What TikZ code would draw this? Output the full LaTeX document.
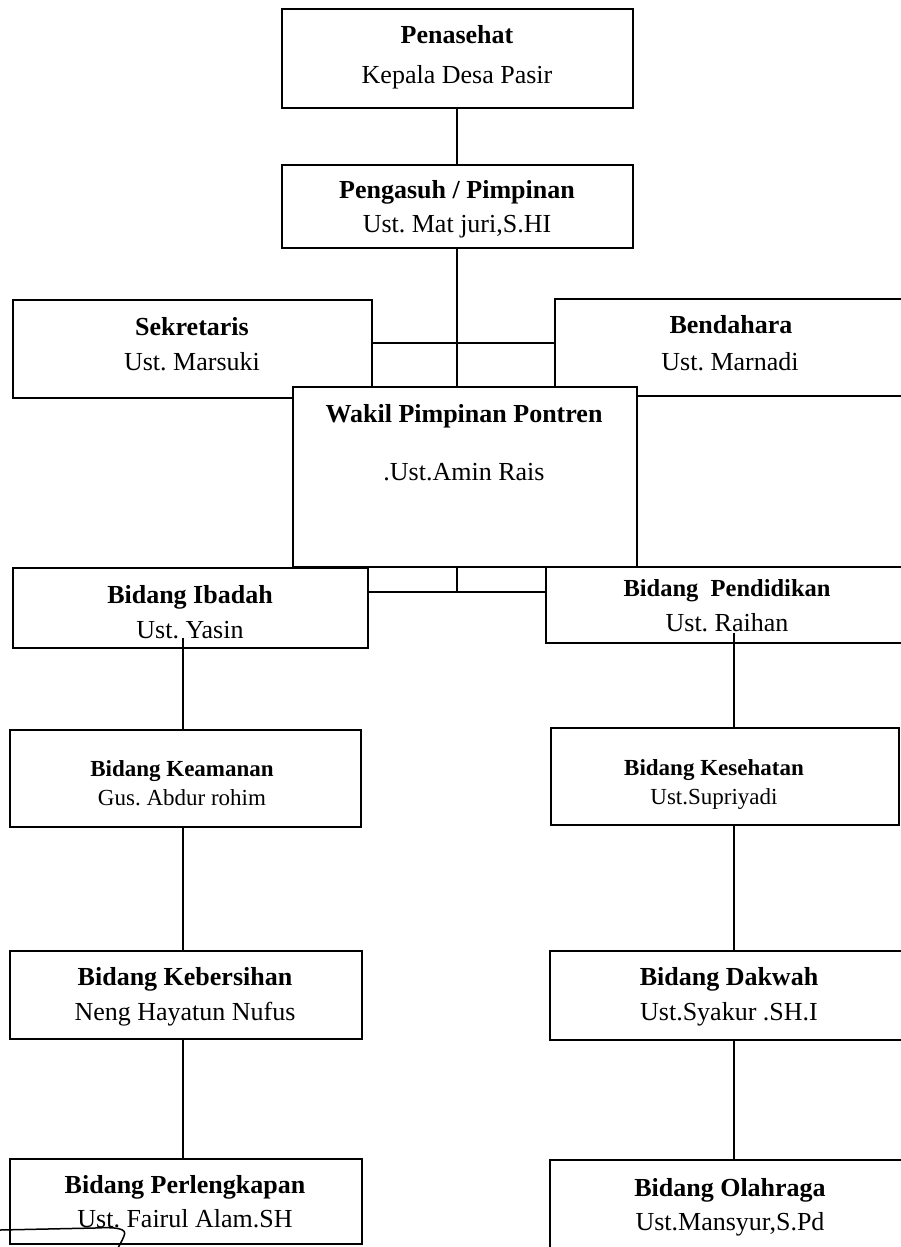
\documentclass[tikz,border=0pt]{standalone}
\usepackage{fontspec}
\setmainfont{Liberation Serif}
\frenchspacing
\begin{document}
\begin{tikzpicture}[x=1pt,y=-1pt,
  box/.style={draw, line width=2.2pt, rectangle, inner sep=0pt},
  ttl/.style={font=\bfseries\fontsize{26}{30}\selectfont, anchor=base, inner sep=0pt},
  nm/.style={font=\fontsize{26}{30}\selectfont, anchor=base, inner sep=0pt},
  ttls/.style={font=\bfseries\fontsize{23}{27}\selectfont, anchor=base, inner sep=0pt},
  nms/.style={font=\fontsize{23}{27}\selectfont, anchor=base, inner sep=0pt},
  conn/.style={line width=1.9pt}]
\fill[white] (0,0) rectangle (901,1247);
\useasboundingbox (0,0) rectangle (901,1247);

% boxes
\node[box, minimum width=351pt, minimum height=99pt] (pen) at (457.5,58.5) {};
\node[box, minimum width=351pt, minimum height=83pt] (pga) at (457.5,206.5) {};
\node[box, minimum width=359pt, minimum height=98pt] (sek) at (192.5,349) {};
\node[box, minimum width=355pt, minimum height=97pt] (ben) at (732.5,347.5) {};
\node[box, minimum width=344pt, minimum height=180pt, fill=white] (wak) at (465,477) {};
\node[box, minimum width=355pt, minimum height=80pt] (iba) at (190.5,608) {};
\node[box, minimum width=362pt, minimum height=76pt] (pdk) at (727,605) {};
\node[box, minimum width=351pt, minimum height=97pt] (kea) at (185.5,778.5) {};
\node[box, minimum width=348pt, minimum height=97pt] (kes) at (725,776.5) {};
\node[box, minimum width=352pt, minimum height=88pt] (keb) at (186,995) {};
\node[box, minimum width=360pt, minimum height=89pt] (dak) at (730,995.5) {};
\node[box, minimum width=352pt, minimum height=85pt] (per) at (186,1201.5) {};
\node[box, minimum width=360pt, minimum height=90pt] (ola) at (730,1205) {};

% texts
\node[ttl] (pen-t) at (457,44) {Penasehat};
\node[nm]  (pen-n) at (457,83) {Kepala Desa Pasir};
\node[ttl] (pga-t) at (457,198) {Pengasuh / Pimpinan};
\node[nm]  (pga-n) at (457,232) {Ust. Mat juri,S.HI};
\node[ttl] (sek-t) at (192,335) {Sekretaris};
\node[nm]  (sek-n) at (192,370) {Ust. Marsuki};
\node[ttl] (ben-t) at (731,333) {Bendahara};
\node[nm]  (ben-n) at (730,370) {Ust. Marnadi};
\node[ttl] (wak-t) at (464,422) {Wakil Pimpinan Pontren};
\node[nm]  (wak-n) at (464,480) {.Ust.Amin Rais};
\node[ttl] (iba-t) at (190,603) {Bidang Ibadah};
\node[nm]  (iba-n) at (190,638) {Ust. Yasin};
\node[font=\bfseries\fontsize{24.5}{28}\selectfont, anchor=base, inner sep=0pt] (pdk-t) at (727,596) {Bidang~~Pendidikan};
\node[nm]  (pdk-n) at (727,631) {Ust. Raihan};
\node[ttls] (kea-t) at (182,776) {Bidang Keamanan};
\node[nms]  (kea-n) at (182,805) {Gus. Abdur rohim};
\node[ttls] (kes-t) at (714,775) {Bidang Kesehatan};
\node[nms]  (kes-n) at (714,804) {Ust.Supriyadi};
\node[ttl] (keb-t) at (185,985) {Bidang Kebersihan};
\node[nm]  (keb-n) at (185,1020) {Neng Hayatun Nufus};
\node[ttl] (dak-t) at (729,985) {Bidang Dakwah};
\node[nm]  (dak-n) at (729,1020) {Ust.Syakur .SH.I};
\node[ttl] (per-t) at (185,1193) {Bidang Perlengkapan};
\node[nm]  (per-n) at (185,1227) {Ust. Fairul Alam.SH};
\node[ttl] (ola-t) at (730,1196) {Bidang Olahraga};
\node[nm]  (ola-n) at (730,1230) {Ust.Mansyur,S.Pd};

% connectors
\coordinate (a1) at (457,343);
\coordinate (a2) at (457,592);
\coordinate (l0) at (183,638);
\coordinate (r0) at (734,633);
\draw[conn] (a1 |- pen.south) -- (a1 |- pga.north);
\draw[conn] (a1 |- pga.south) -- (a1 |- wak.north);
\draw[conn] (sek.east |- a1) -- (ben.west |- a1);
\draw[conn] (a2 |- wak.south) -- (a2);
\draw[conn] (iba.east |- a2) -- (pdk.west |- a2);
\draw[conn] (l0) -- (l0 |- kea.north);
\draw[conn] (l0 |- kea.south) -- (l0 |- keb.north);
\draw[conn] (l0 |- keb.south) -- (l0 |- per.north);
\draw[conn] (r0) -- (r0 |- kes.north);
\draw[conn] (r0 |- kes.south) -- (r0 |- dak.north);
\draw[conn] (r0 |- dak.south) -- (r0 |- ola.north);

% hand-drawn mark
\draw[line width=1.5pt] (0,1230) -- (95,1228) .. controls (115,1227) and (128,1228) .. (124,1236) .. controls (122,1241) and (120,1244) .. (118,1248);
\end{tikzpicture}
\end{document}
